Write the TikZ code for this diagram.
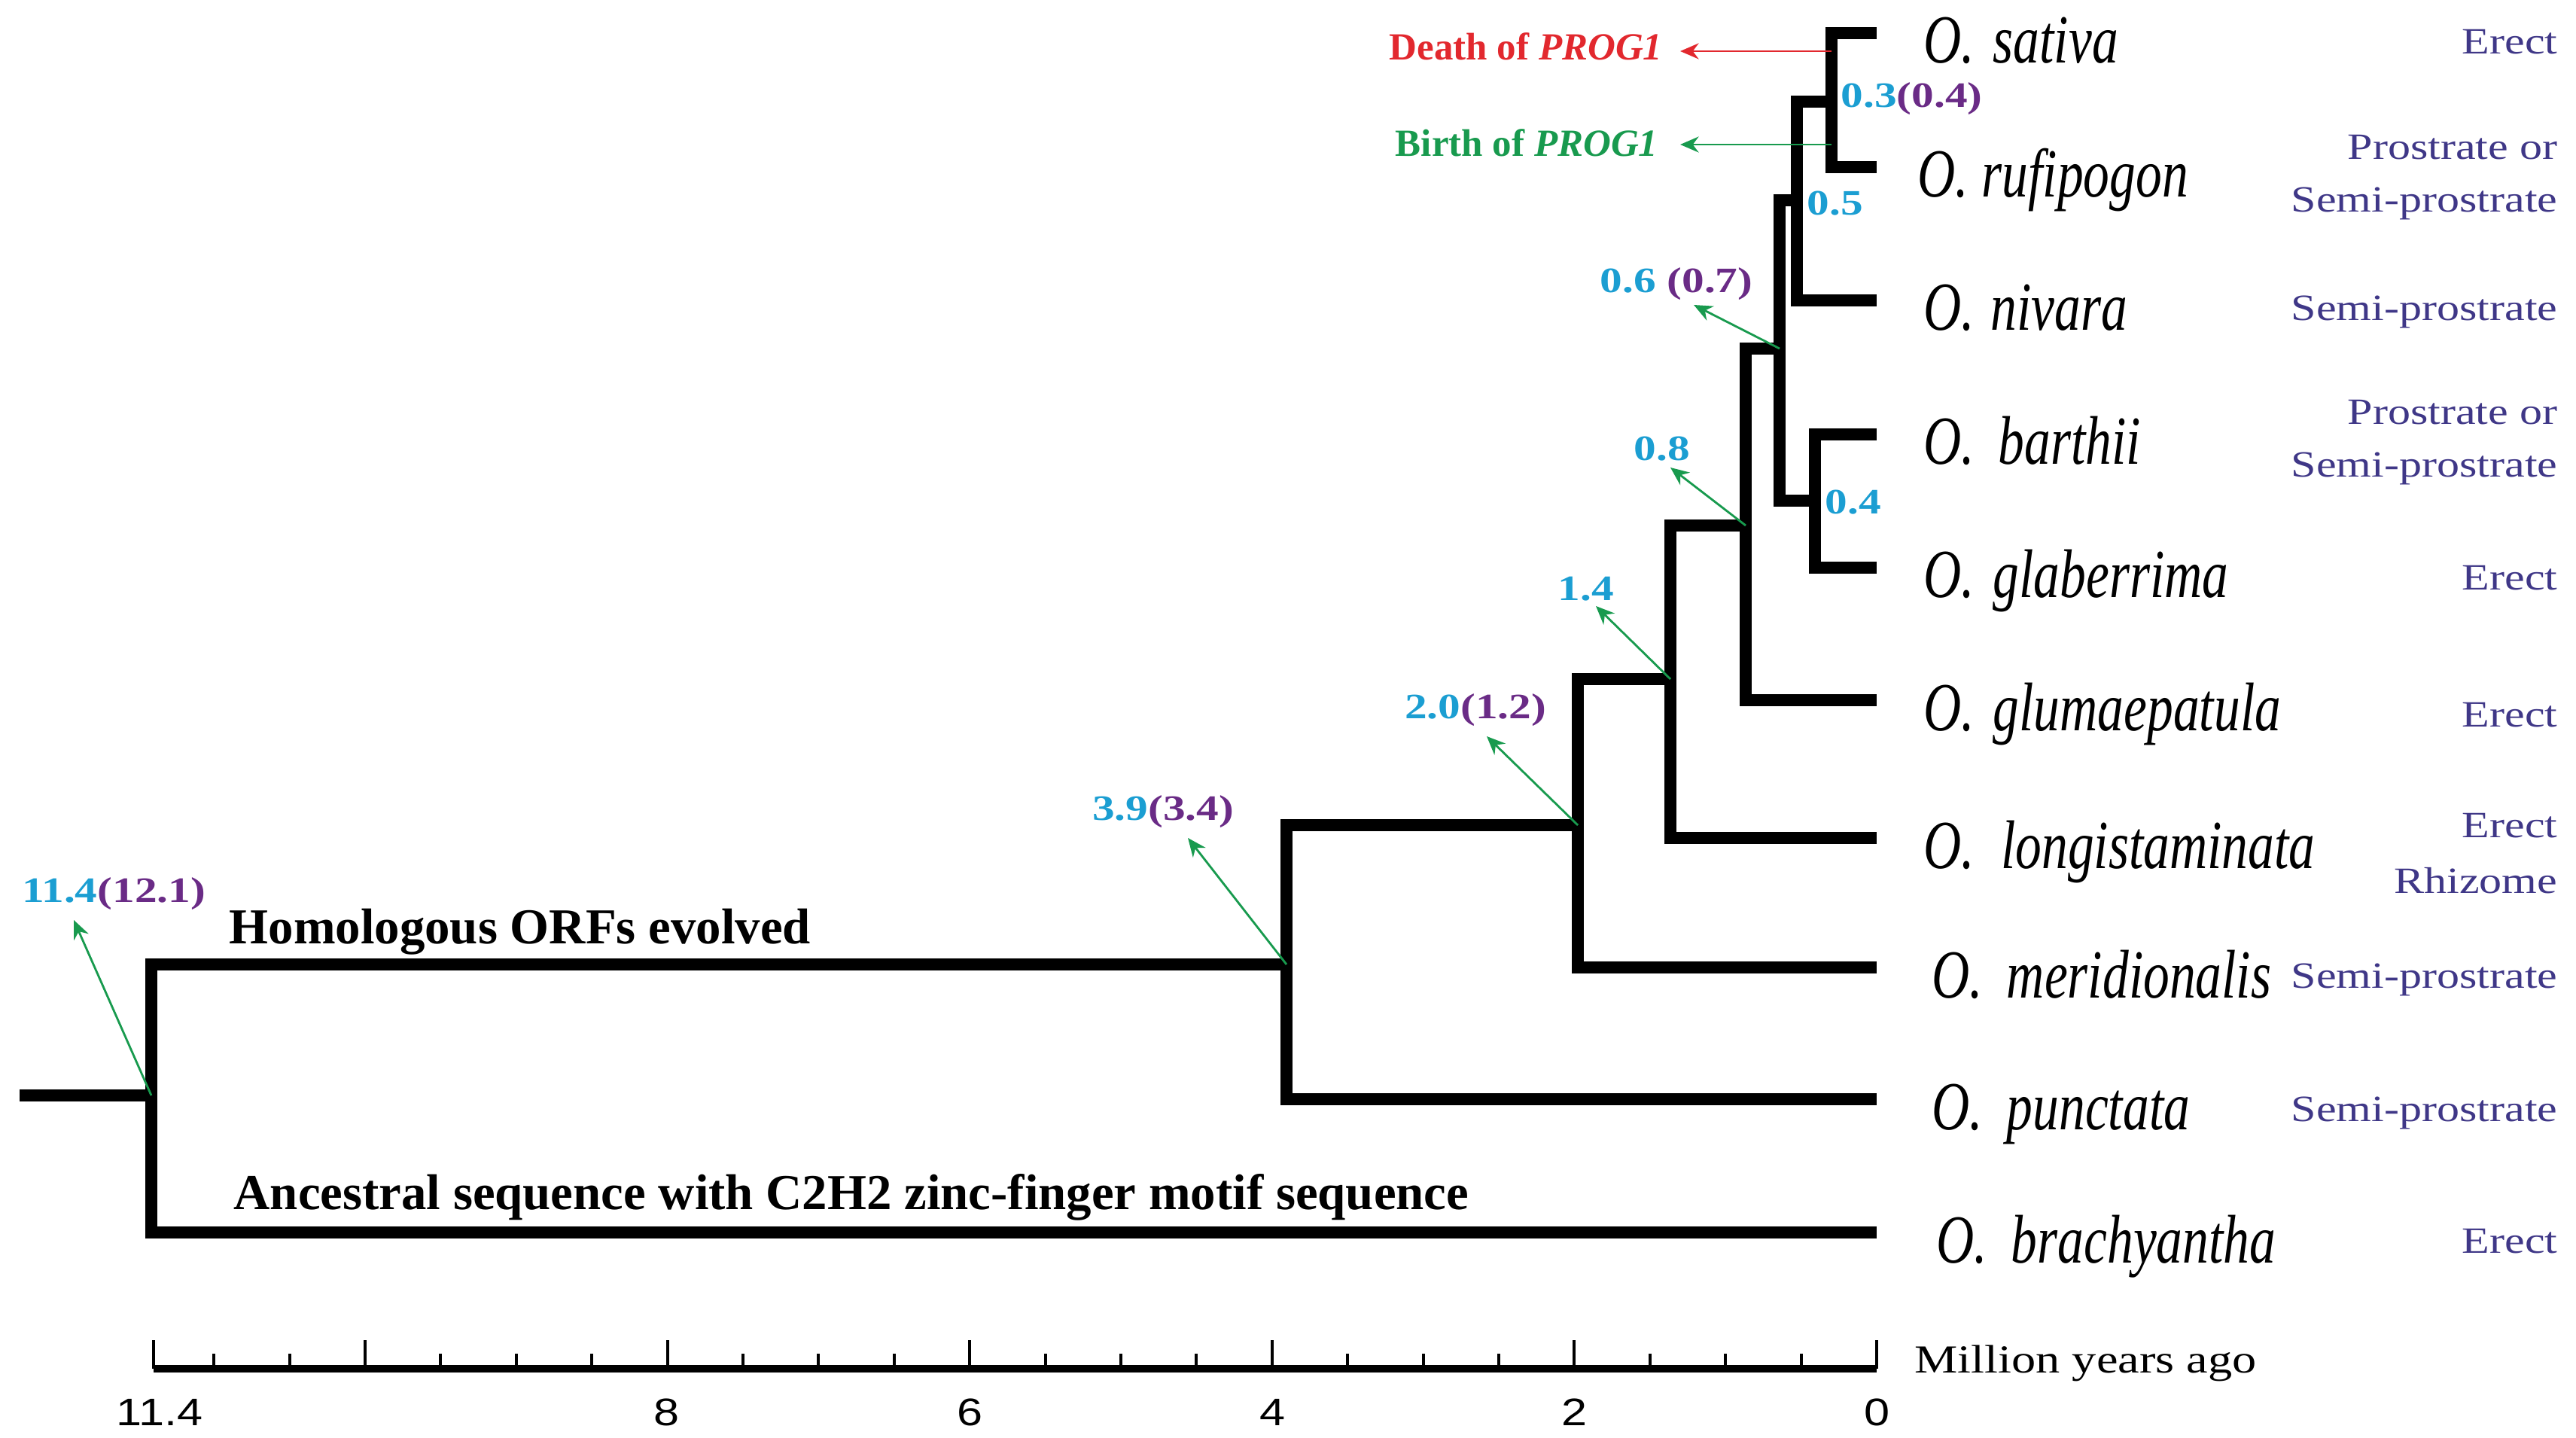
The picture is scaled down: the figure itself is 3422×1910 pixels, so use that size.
\documentclass[tikz,border=0pt]{standalone}
\usepackage{fontspec}
\setmainfont{Liberation Serif}
\newfontfamily\spfont[FakeStretch=0.76]{Liberation Serif}
\newfontfamily\widefont[FakeStretch=1.22]{Liberation Serif}
\newfontfamily\numfont[FakeStretch=1.25]{Liberation Serif}
\newfontfamily\axisfont[FakeStretch=1.2]{Liberation Sans}
\usetikzlibrary{arrows.meta}

\definecolor{agecyan}{HTML}{1B9ED2}
\definecolor{agepurple}{HTML}{6A2B86}
\definecolor{arrgreen}{HTML}{189A4E}
\definecolor{deathred}{HTML}{E2282E}
\definecolor{habitblue}{HTML}{3F3787}

\tikzset{
  branch/.style={line width=4.6pt, line join=miter},
  note/.style={draw=arrgreen, line width=0.8pt, -{Stealth[length=7pt,width=6pt]}},
  species/.style={anchor=base west, inner sep=0pt, font=\spfont\itshape\fontsize{26}{30}\selectfont},
  habit/.style={anchor=base east, inner sep=0pt, text=habitblue, font=\widefont\fontsize{14}{17}\selectfont},
  age/.style={inner sep=0pt, font=\numfont\bfseries\fontsize{13.5}{16}\selectfont},
  event/.style={anchor=base east, inner sep=0pt, font=\bfseries\fontsize{14.5}{17}\selectfont},
  axnum/.style={anchor=base, inner sep=0pt, font=\axisfont\fontsize{14.5}{17}\selectfont},
}

\begin{document}
\begin{tikzpicture}[x=0.01cm, y=-0.01cm]
\useasboundingbox (0,0) rectangle (3422,1910);

\coordinate (stub) at (26,1455);
\coordinate (root) at (201,1455);
\coordinate (n39) at (1709,1281);
\coordinate (n20) at (2096,1096);
\coordinate (n14) at (2219,902);
\coordinate (n08) at (2319,698);
\coordinate (n06) at (2364,463);
\coordinate (n05) at (2387,266);
\coordinate (n03) at (2433,135);
\coordinate (n04) at (2411,665);

\coordinate (sat) at (2493,44);
\coordinate (ruf) at (2493,222);
\coordinate (niv) at (2493,399);
\coordinate (bar) at (2493,577);
\coordinate (gla) at (2493,754);
\coordinate (glu) at (2493,930);
\coordinate (lon) at (2493,1113);
\coordinate (mer) at (2493,1285);
\coordinate (pun) at (2493,1460);
\coordinate (bra) at (2493,1637);

\draw[branch] (stub) -- (root);
\draw[branch] (root) |- (n39);
\draw[branch] (root) |- (bra);
\draw[branch] (n39) |- (n20);
\draw[branch] (n39) |- (pun);
\draw[branch] (n20) |- (n14);
\draw[branch] (n20) |- (mer);
\draw[branch] (n14) |- (n08);
\draw[branch] (n14) |- (lon);
\draw[branch] (n08) |- (n06);
\draw[branch] (n08) |- (glu);
\draw[branch] (n06) |- (n05);
\draw[branch] (n06) |- (n04);
\draw[branch] (n05) |- (n03);
\draw[branch] (n05) |- (niv);
\draw[branch] (n03) |- (sat);
\draw[branch] (n03) |- (ruf);
\draw[branch] (n04) |- (bar);
\draw[branch] (n04) |- (gla);

\node[species] (sp1) at (2555,84) {O.\hspace{7pt}sativa};
\node[species] (sp2) at (2547,262) {O. rufipogon};
\node[species] (sp3) at (2555,439) {O.\hspace{6pt}nivara};
\node[species] (sp4) at (2555,617) {O.\hspace{9pt}barthii};
\node[species] (sp5) at (2555,794) {O.\hspace{7pt}glaberrima};
\node[species] (sp6) at (2555,970) {O.\hspace{7pt}glumaepatula};
\node[species] (sp7) at (2555,1153) {O.\hspace{10pt}longistaminata};
\node[species] (sp8) at (2566,1325) {O.\hspace{9pt}meridionalis};
\node[species] (sp9) at (2566,1500) {O.\hspace{9pt}punctata};
\node[species] (sp10) at (2572,1677) {O.\hspace{9pt}brachyantha};

\node[habit] (hb1) at (3398,72) {Erect};
\node[habit] (hb2) at (3398,212) {Prostrate or};
\node[habit] (hb2b) at (3398,282) {Semi-prostrate};
\node[habit] (hb3) at (3398,426) {Semi-prostrate};
\node[habit] (hb4) at (3398,564) {Prostrate or};
\node[habit] (hb4b) at (3398,634) {Semi-prostrate};
\node[habit] (hb5) at (3398,784) {Erect};
\node[habit] (hb6) at (3398,965) {Erect};
\node[habit] (hb7) at (3398,1112) {Erect};
\node[habit] (hb7b) at (3398,1186) {Rhizome};
\node[habit] (hb8) at (3398,1312) {Semi-prostrate};
\node[habit] (hb9) at (3398,1489) {Semi-prostrate};
\node[habit] (hb10) at (3398,1664) {Erect};

\node[age, anchor=west] (a03) at (2445,131) {\textcolor{agecyan}{0.3}\textcolor{agepurple}{(0.4)}};
\node[age] (a05) at (2438,270) {\textcolor{agecyan}{0.5}};
\node[age] (a06) at (2227,377) {\textcolor{agecyan}{0.6} \textcolor{agepurple}{(0.7)}};
\node[age] (a04) at (2462,667) {\textcolor{agecyan}{0.4}};
\node[age] (a08) at (2208,596) {\textcolor{agecyan}{0.8}};
\node[age] (a14) at (2107,782) {\textcolor{agecyan}{1.4}};
\node[age] (a20) at (1960,943) {\textcolor{agecyan}{2.0}\textcolor{agepurple}{(1.2)}};
\node[age] (a39) at (1545,1078) {\textcolor{agecyan}{3.9}\textcolor{agepurple}{(3.4)}};
\node[age] (a114) at (151,1187) {\textcolor{agecyan}{11.4}\textcolor{agepurple}{(12.1)}};

\coordinate (h114) at (98,1222);
\coordinate (h39) at (1578,1113);
\coordinate (h20) at (1975,978);
\coordinate (h14) at (2120,805);
\coordinate (h08) at (2219,621);
\coordinate (h06) at (2250,405);
\draw[note] (root) -- (h114);
\draw[note] (n39) -- (h39);
\draw[note] (n20) -- (h20);
\draw[note] (n14) -- (h14);
\draw[note] (n08) -- (h08);
\draw[note] (n06) -- (h06);

\node[event, text=deathred] (death) at (2209,80) {Death of \textit{PROG1}};
\node[event, text=arrgreen] (birth) at (2203,208) {Birth of \textit{PROG1}};
\coordinate (dtail) at (2433,68);
\coordinate (dhead) at (2232,68);
\coordinate (btail) at (2433,192);
\coordinate (bhead) at (2232,192);
\draw[note, draw=deathred] (dtail) -- (dhead);
\draw[note] (btail) -- (bhead);

\node[anchor=base west, inner sep=0pt, font=\bfseries\fontsize{19}{22}\selectfont] (homol) at (304,1253) {Homologous ORFs evolved};
\node[anchor=base west, inner sep=0pt, font=\bfseries\fontsize{19}{22}\selectfont] (ances) at (310,1606) {Ancestral sequence with C2H2 zinc-finger motif sequence};

\draw[line width=3pt] (204,1818) -- (2493,1818);
\draw[line width=0.9pt] (204,1780) -- (204,1818) (485,1780) -- (485,1818) (887,1780) -- (887,1818)
  (1288,1780) -- (1288,1818) (1690,1780) -- (1690,1818) (2091,1780) -- (2091,1818) (2493,1780) -- (2493,1818);
\draw[line width=0.9pt] (284,1798) -- (284,1818) (385,1798) -- (385,1818) (585,1798) -- (585,1818)
  (686,1798) -- (686,1818) (786,1798) -- (786,1818) (987,1798) -- (987,1818) (1087,1798) -- (1087,1818)
  (1188,1798) -- (1188,1818) (1389,1798) -- (1389,1818) (1489,1798) -- (1489,1818) (1589,1798) -- (1589,1818)
  (1790,1798) -- (1790,1818) (1891,1798) -- (1891,1818) (1991,1798) -- (1991,1818) (2192,1798) -- (2192,1818)
  (2292,1798) -- (2292,1818) (2393,1798) -- (2393,1818);

\node[axnum] (t114) at (212,1893) {11.4};
\node[axnum] (t8) at (885,1893) {8};
\node[axnum] (t6) at (1288,1893) {6};
\node[axnum] (t4) at (1690,1893) {4};
\node[axnum] (t2) at (2091,1893) {2};
\node[axnum] (t0) at (2493,1893) {0};
\node[anchor=base west, inner sep=0pt, font=\widefont\fontsize{15}{18}\selectfont] (myago) at (2543,1823) {Million years ago};
\end{tikzpicture}
\end{document}
